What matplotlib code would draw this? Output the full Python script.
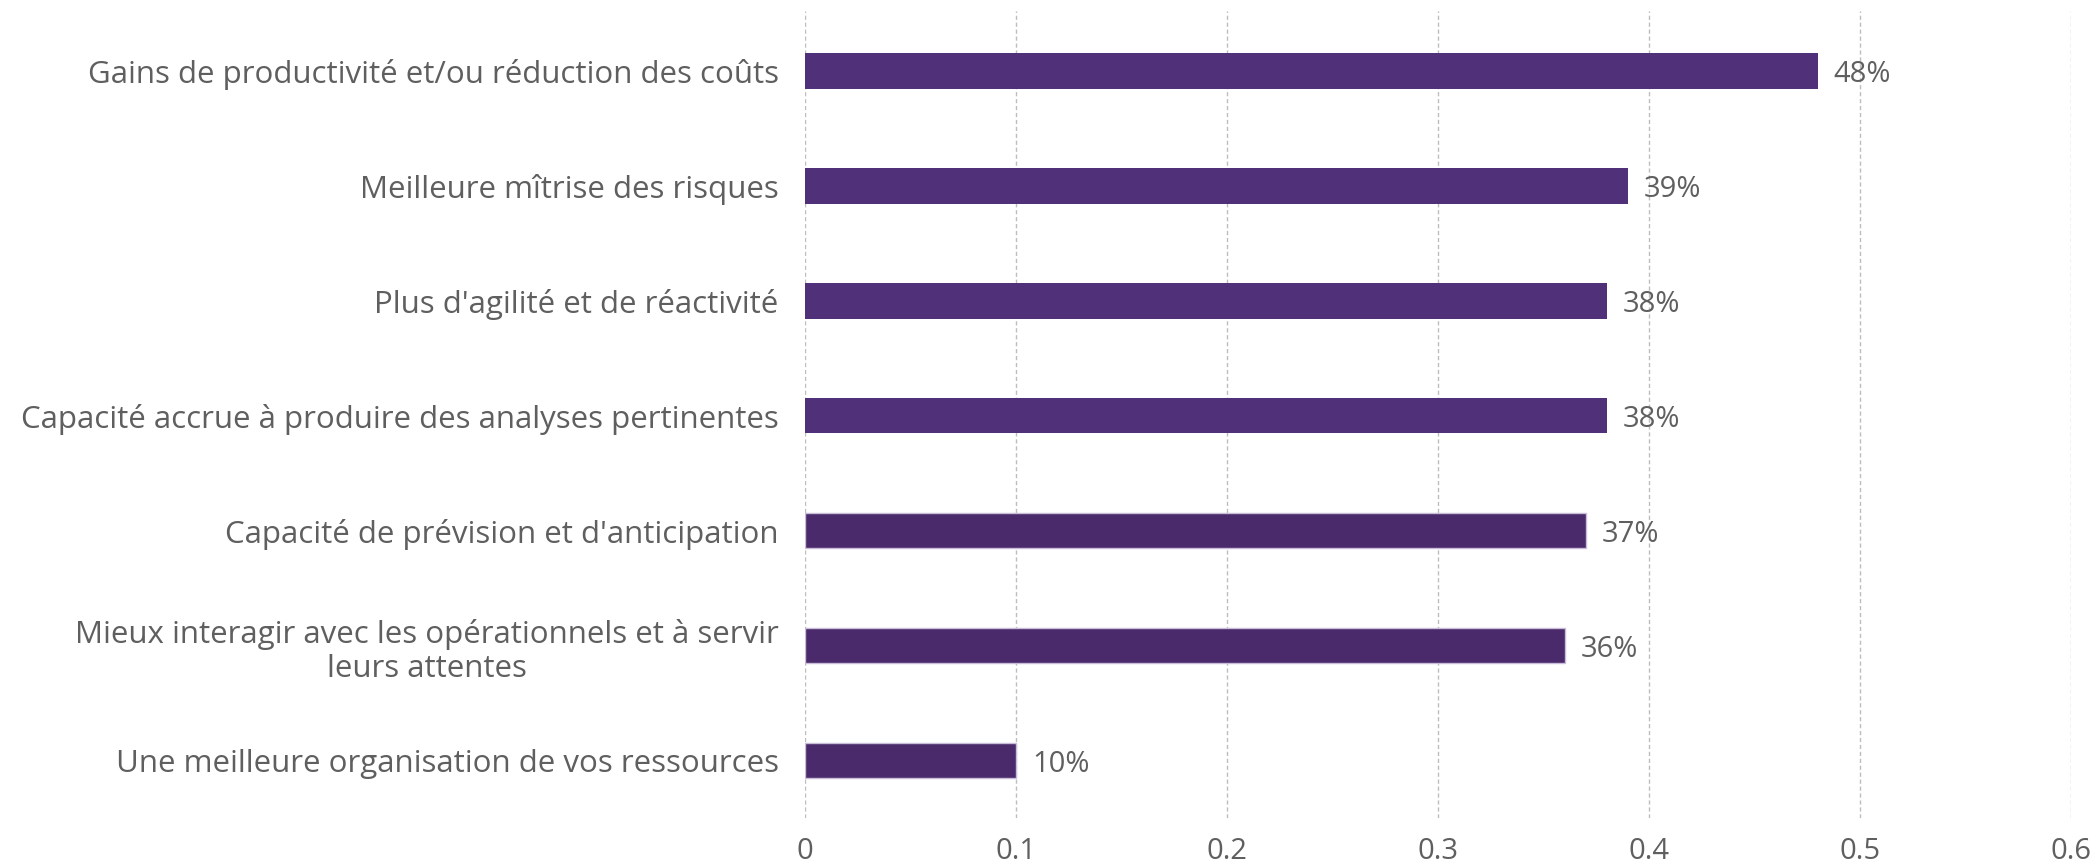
import matplotlib.pyplot as plt

categories = [
    "Gains de productivité et/ou réduction des coûts",
    "Meilleure mîtrise des risques",
    "Plus d'agilité et de réactivité",
    "Capacité accrue à produire des analyses pertinentes",
    "Capacité de prévision et d'anticipation",
    "Mieux interagir avec les opérationnels et à servir\nleurs attentes",
    "Une meilleure organisation de vos ressources",
]
values = [0.48, 0.39, 0.38, 0.38, 0.37, 0.36, 0.10]
value_labels = ["48%", "39%", "38%", "38%", "37%", "36%", "10%"]
bar_colors = ["#51307a", "#51307a", "#51307a", "#51307a",
              "#4a2a6a", "#4a2a6a", "#4a2a6a"]
edge_colors = ["none", "none", "none", "none",
               "#c9bcd9", "#c9bcd9", "#c9bcd9"]
xticks = [0, 0.1, 0.2, 0.3, 0.4, 0.5, 0.6]
xtick_labels = ["0", "0.1", "0.2", "0.3", "0.4", "0.5", "0.6"]

plt.rcParams["font.family"] = ["Open Sans", "DejaVu Sans"]
text_color = "#5f5f5f"

fig = plt.figure(figsize=(20.95, 8.64), dpi=100)
ax = fig.add_axes([805 / 2095, 1 - 818 / 864, (2071 - 805) / 2095, (818 - 11) / 864])

pos = list(range(len(categories)))
ax.barh(pos, values, height=0.31, color=bar_colors, edgecolor=edge_colors,
        linewidth=1.0, zorder=3)

for p, v, lab in zip(pos, values, value_labels):
    ax.text(v + 0.0075, p, lab, va="center_baseline", ha="left",
            fontsize=21, color=text_color)

ax.set_ylim(len(categories) - 0.5, -0.52)
ax.set_xlim(0, 0.6)
ax.set_yticks(pos)
ax.set_yticklabels(categories, fontsize=22.5, color=text_color,
                   multialignment="center")
ax.set_xticks(xticks)
ax.set_xticklabels(xtick_labels, fontsize=21, color=text_color)
ax.tick_params(axis="both", length=0)
ax.tick_params(axis="y", pad=19)
ax.tick_params(axis="x", pad=14)

ax.grid(axis="x", color="#bdbdbd", linestyle=(0, (3, 2)), linewidth=1.0, zorder=0)
for s in ax.spines.values():
    s.set_visible(False)

fig.savefig("out.png", dpi=100)
